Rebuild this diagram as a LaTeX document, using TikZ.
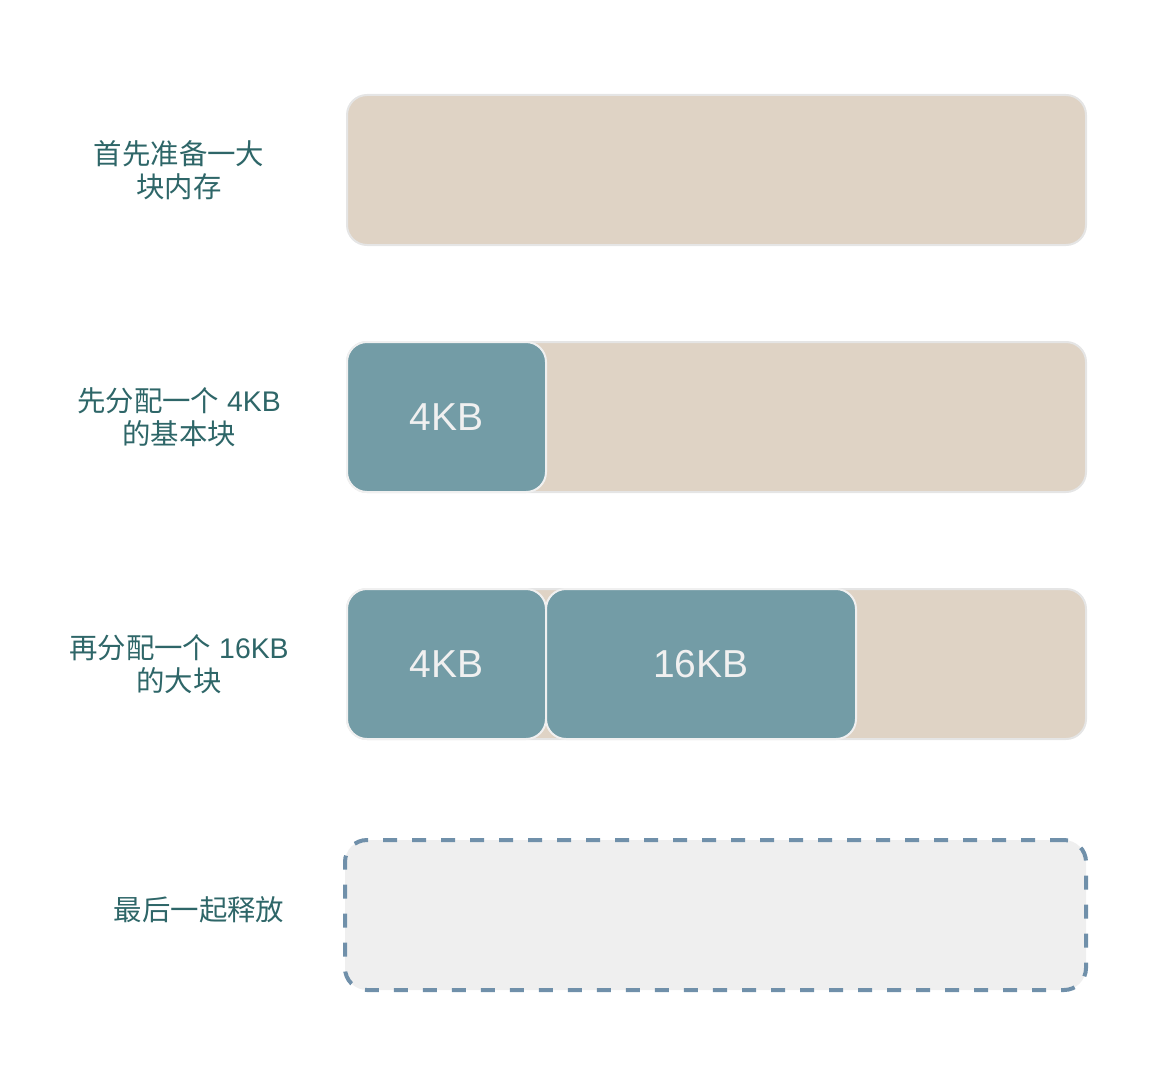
\documentclass[tikz,border=0pt]{standalone}
\usepackage{fontspec}
\setmainfont{Liberation Sans}
\newfontfamily\cjk{Noto Sans CJK SC}
\usetikzlibrary{positioning}

\definecolor{sand}{HTML}{DFD3C5}
\definecolor{blockteal}{HTML}{739CA6}
\definecolor{labelteal}{HTML}{2E6668}
\definecolor{dashblue}{HTML}{7090AA}
\definecolor{freegray}{HTML}{EFEFEF}

\begin{document}
\begin{tikzpicture}[x=0.5pt,y=-0.5pt,
  pool/.style={draw=black!10,line width=1pt,fill=sand,rounded corners=10pt,
    minimum width=369.5pt,minimum height=75pt,inner sep=0pt},
  chunk/.style={draw=white!94!black,line width=1pt,fill=blockteal,rounded corners=10pt,
    minimum height=75pt,inner sep=0pt,text=white!94!black,font=\fontsize{19.5}{21}\selectfont},
  freed/.style={draw=dashblue,line width=2pt,dash pattern=on 7pt off 7.5pt,fill=freegray,
    rounded corners=11pt,minimum width=370.5pt,minimum height=75pt,inner sep=0pt},
  steplabel/.style={text=labelteal,align=center,font=\fontsize{14.2}{16.5}\selectfont}]

\useasboundingbox (0,0) rectangle (1176,1070);

% the memory pools
\node[pool] (pool1) at (716.5,170) {};
\node[pool] (pool2) at (716.5,417) {};
\node[pool] (pool3) at (716.5,664) {};
\node[freed] (pool4) at (715.5,915) {};

% allocated blocks
\node[chunk,minimum width=99.5pt,anchor=west] (a4k) at (pool2.west) {4KB};
\node[chunk,minimum width=99.5pt,anchor=west] (b4k) at (pool3.west) {4KB};
\node[chunk,minimum width=155pt,anchor=west,xshift=-1pt] (b16k) at (b4k.east) {16KB};

% step labels
\node[steplabel] (lab1) at (179,170) {\cjk 首先准备一大\\\cjk 块内存};
\node[steplabel] (lab2) at (179,417) {{\cjk 先分配一个} 4KB\\\cjk 的基本块};
\node[steplabel] (lab3) at (179,664) {{\cjk 再分配一个} 16KB\\\cjk 的大块};
\node[steplabel] (lab4) at (199,910) {\cjk 最后一起释放};

\end{tikzpicture}
\end{document}
